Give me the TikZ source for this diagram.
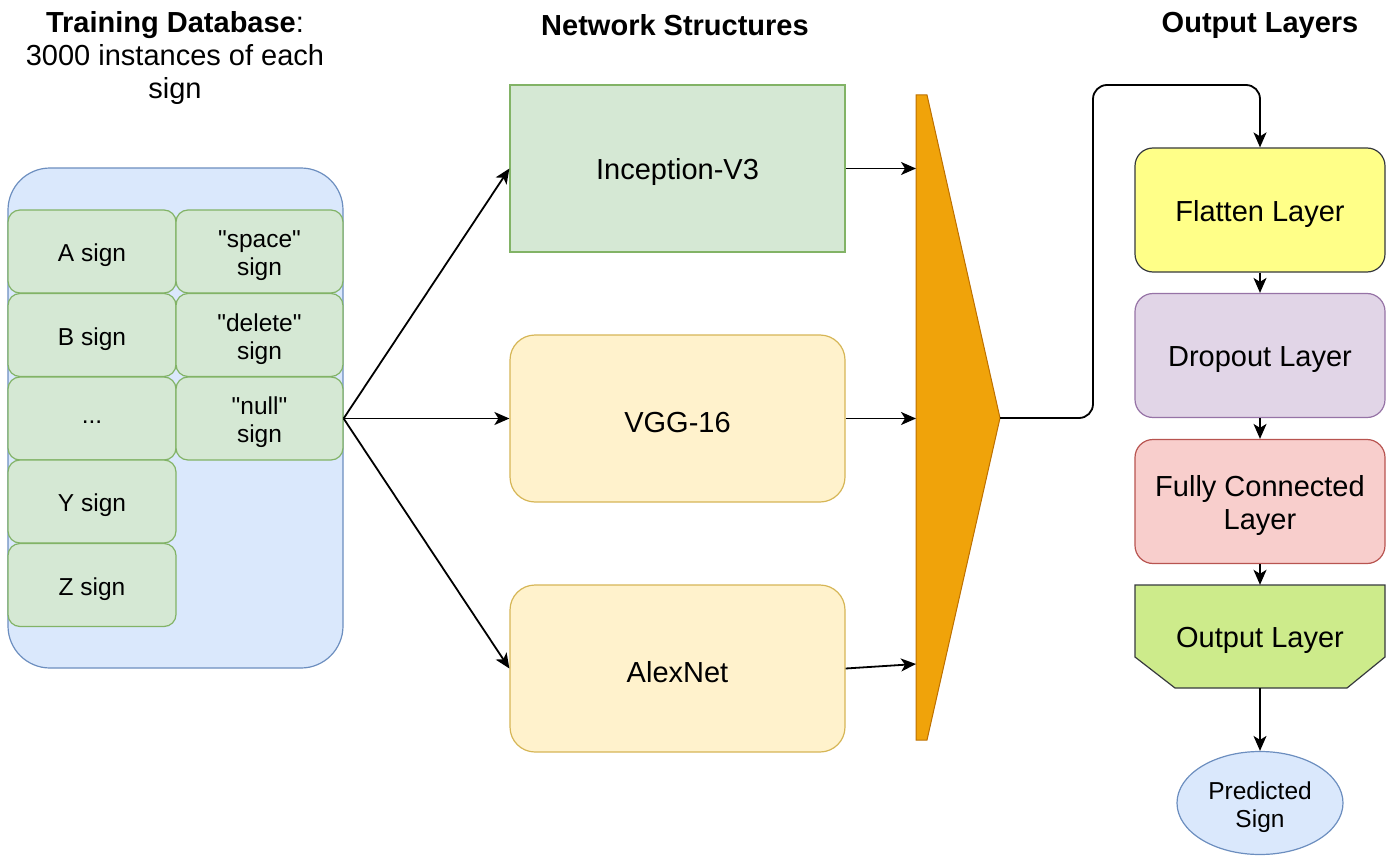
\documentclass[tikz,border=0pt]{standalone}
\usepackage{fontspec}
\setmainfont{Liberation Sans}[Ligatures=TeXOff]
\usetikzlibrary{arrows.meta,shapes.geometric}
\definecolor{bluef}{HTML}{DAE8FC}\definecolor{blued}{HTML}{6C8EBF}
\definecolor{greenf}{HTML}{D5E8D4}\definecolor{greend}{HTML}{82B366}
\definecolor{yelf}{HTML}{FFF2CC}\definecolor{yeld}{HTML}{D6B656}
\definecolor{flatf}{HTML}{FFFF88}\definecolor{darkd}{HTML}{36393D}
\definecolor{purf}{HTML}{E1D5E7}\definecolor{purd}{HTML}{9673A6}
\definecolor{redf}{HTML}{F8CECC}\definecolor{redd}{HTML}{B85450}
\definecolor{outf}{HTML}{CDEB8B}
\definecolor{orf}{HTML}{F0A30A}\definecolor{ord}{HTML}{BD7000}
\newcommand{\dq}{\symbol{34}}
\tikzset{
  big/.style={font=\fontsize{29}{33}\selectfont},
  small/.style={font=\fontsize{24.5}{28}\selectfont},
  bigl/.style={big,align=center,yshift=-4pt,inner sep=0pt},
  smalll/.style={small,align=center,yshift=-4pt,inner sep=0pt},
  cell/.style={draw=greend,fill=greenf,line width=1.2pt,rounded corners=12pt,minimum width=168pt,minimum height=83pt,inner sep=0pt},
  netbox/.style={line width=1.2pt,minimum width=335pt,minimum height=167pt,inner sep=0pt},
  layerbox/.style={line width=1.2pt,rounded corners=18pt,minimum width=250pt,minimum height=124pt,inner sep=0pt},
  arr/.style={line width=1.8pt,-{Stealth[length=15pt,width=13pt,inset=4pt]}},
  title/.style={big,align=center},
}
\begin{document}
\begin{tikzpicture}[x=1pt,y=-1pt]
\path[use as bounding box] (0,0) rectangle (1392,856);
% titles
\node[title] (t1) at (175,58) {{\bfseries Training Database}:\\3000 instances of each\\sign};
\node[title,font=\fontsize{29}{33}\selectfont\bfseries] (t2) at (675,25) {Network Structures};
\node[title,font=\fontsize{29}{33}\selectfont\bfseries] (t3) at (1260,25) {Output Layers};
% database container
\draw[draw=blued,fill=bluef,line width=1.2pt,rounded corners=42pt] (8,168) rectangle (343,668);
\node[cell,label={[smalll]center:A sign}] (cA) at (92,251.5) {};
\node[cell,label={[smalll]center:B sign}] (cB) at (92,335) {};
\node[cell,label={[smalll]center:...}] (cD) at (92,418.5) {};
\node[cell,label={[smalll]center:Y sign}] (cY) at (92,501.5) {};
\node[cell,label={[smalll]center:Z sign}] (cZ) at (92,585) {};
\node[cell,minimum width=167pt,label={[smalll]center:{\dq space\dq\\sign}}] (cS) at (259.5,251.5) {};
\node[cell,minimum width=167pt,label={[smalll]center:{\dq delete\dq\\sign}}] (cDel) at (259.5,335) {};
\node[cell,minimum width=167pt,label={[smalll]center:{\dq null\dq\\sign}}] (cN) at (259.5,418.5) {};
% networks
\node[netbox,draw=greend,fill=greenf,label={[bigl]center:Inception-V3}] (inc) at (677.5,168.5) {};
\node[netbox,draw=yeld,fill=yelf,rounded corners=25pt,label={[bigl]center:VGG-16}] (vgg) at (677.5,418.5) {};
\node[netbox,draw=yeld,fill=yelf,rounded corners=25pt,label={[bigl]center:AlexNet}] (alex) at (677.5,668.5) {};
\draw[arr] (cN.east) -- (inc.west);
\draw[arr] (cN.east) -- (vgg.west);
\draw[arr] (cN.east) -- (alex.west);
% orange merge shape
\draw[draw=ord,fill=orf,line width=1pt] (916,95) -- (927,95) -- (1000,418) -- (927,740) -- (916,740) -- cycle;
\coordinate (o1) at (916,168.5);
\coordinate (o2) at (916,418.5);
\coordinate (o3) at (916,664);
\coordinate (tip) at (1000,418);
\draw[arr] (inc.east) -- (o1);
\draw[arr] (vgg.east) -- (o2);
\draw[arr] (alex.east) -- (o3);
% output layers
\node[layerbox,draw=darkd,fill=flatf,label={[bigl]center:Flatten Layer}] (flat) at (1260,210) {};
\node[layerbox,draw=purd,fill=purf,label={[bigl]center:Dropout Layer}] (drop) at (1260,355.5) {};
\node[layerbox,draw=redd,fill=redf,label={[bigl]center:{Fully Connected\\Layer}}] (fc) at (1260,501.5) {};
\draw[draw=darkd,fill=outf,line width=1.2pt] (1135,585) -- (1385,585) -- (1385,657) -- (1347,688) -- (1175,688) -- (1135,657) -- cycle;
\node[minimum width=250pt,minimum height=103pt,inner sep=0pt,label={[bigl]center:Output Layer}] (outl) at (1260,636.5) {};
\node[ellipse,draw=blued,fill=bluef,line width=1.2pt,minimum width=166pt,minimum height=103pt,inner sep=0pt,label={[smalll]center:{Predicted\\Sign}}] (pred) at (1260,803) {};
\coordinate (up) at (1093,85);
\draw[arr,rounded corners=14pt] (tip) -| (up) -| (flat.north);
\draw[arr] (flat.south) -- (drop.north);
\draw[arr] (drop.south) -- (fc.north);
\draw[arr] (fc.south) -- (outl.north);
\draw[arr] (outl.south) -- (pred.north);
\end{tikzpicture}
\end{document}
